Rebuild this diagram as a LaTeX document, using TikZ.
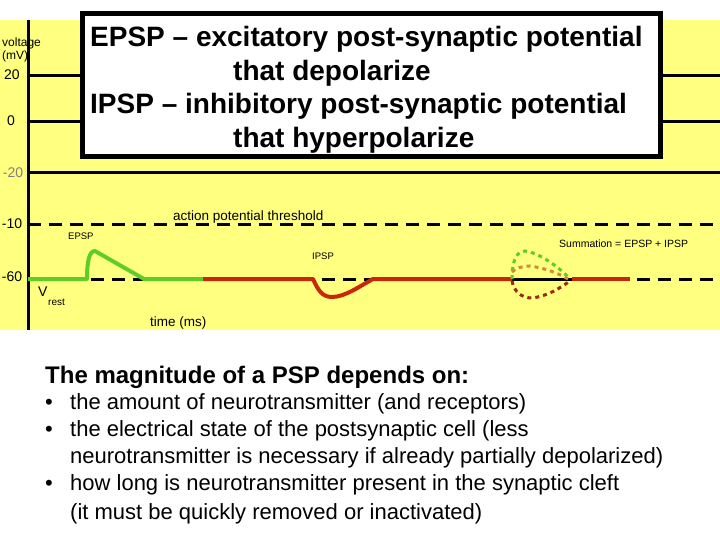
\documentclass[tikz,border=0pt]{standalone}
\usepackage{fontspec}
\setmainfont{Liberation Sans}
\definecolor{bgyellow}{RGB}{255,255,128}
\definecolor{epspgreen}{RGB}{95,205,40}
\definecolor{ipspred}{RGB}{200,40,10}
\definecolor{sumorange}{RGB}{205,140,60}
\definecolor{sumdark}{RGB}{150,40,20}
\begin{document}
\begin{tikzpicture}[x=1pt,y=-1pt,
  axisline/.style={line width=3pt},
  dashline/.style={line width=3pt, dash pattern=on 13pt off 8pt},
  curve/.style={line width=4pt, line join=round},
  dotcurve/.style={line width=3pt, dash pattern=on 4pt off 4pt},
  ticklab/.style={font=\fontsize{14}{16}\selectfont, inner sep=0pt},
  smalllab/.style={font=\fontsize{9.5}{11}\selectfont, inner sep=0pt},
  chartlab/.style={font=\fontsize{13.5}{16}\selectfont, inner sep=0pt},
  boxtext/.style={font=\fontsize{28}{32}\selectfont\bfseries, inner sep=0pt, anchor=base west},
  bodytext/.style={font=\fontsize{22}{26}\selectfont, inner sep=0pt, anchor=base west}
]
\useasboundingbox (0,0) rectangle (720,540);
\fill[white] (0,0) rectangle (720,540);
% chart background
\fill[bgyellow] (0,20) rectangle (720,330);
% axis and grid lines
\draw[axisline] (28,20) -- (28,330);
\draw[axisline] (28,76) -- (720,76);
\draw[axisline] (28,122) -- (720,122);
\draw[axisline] (28,173) -- (720,173);
\draw[dashline] (28,225) -- (720,225);
\draw[dashline] (28,279) -- (720,279);
\draw[line width=3pt] (512,279) -- (572,279);
% EPSP (green)
\draw[curve, epspgreen] (28,279) -- (87,279) .. controls (87,262) and (89,251) .. (95,251) -- (144,279) -- (203,279);
% IPSP (red)
\draw[curve, ipspred] (203,279) -- (313,279) .. controls (318,290) and (322,297) .. (332,297) .. controls (345,297) and (360,286) .. (373,279) -- (512,279);
\draw[curve, ipspred] (572,279) -- (630,279);
% summation dotted curves
\draw[dotcurve, epspgreen] (512,279) .. controls (512,258) and (518,251) .. (525,251) .. controls (540,253) and (560,268) .. (570,279);
\draw[dotcurve, sumorange] (512,272) .. controls (516,268) and (522,266) .. (530,266) .. controls (545,268) and (560,274) .. (568,279);
\draw[dotcurve, sumdark] (512,281) .. controls (514,292) and (522,298) .. (532,298) .. controls (548,296) and (560,288) .. (570,281);
% axis labels
\node[font=\fontsize{12}{13}\selectfont, inner sep=0pt, anchor=west] (volt) at (2,43) {voltage};
\node[font=\fontsize{12}{13}\selectfont, inner sep=0pt, anchor=west] (mv) at (2,56) {(mV)};
\node[ticklab] (t20) at (12,75) {20};
\node[ticklab] (t0) at (11,121) {0};
\node[ticklab, gray] (tm20) at (13,173) {-20};
\node[ticklab] (tm10) at (12,224) {-10};
\node[ticklab] (tm60) at (12,277) {-60};
% chart labels
\node[chartlab, anchor=west] (thr) at (173,217) {action potential threshold};
\node[smalllab, anchor=west] (epsp) at (68,236) {EPSP};
\node[smalllab, anchor=west] (ipsp) at (312,256) {IPSP};
\node[font=\fontsize{10.5}{12}\selectfont, inner sep=0pt, anchor=west] (summ) at (559,244) {Summation = EPSP + IPSP};
\node[font=\fontsize{14}{16}\selectfont, inner sep=0pt, anchor=west] (vr) at (38,292) {V};
\node[font=\fontsize{10}{12}\selectfont, inner sep=0pt, anchor=west] (rest) at (48,302) {rest};
\node[chartlab, anchor=west] (time) at (150,323) {time (ms)};
% definition box
\draw[line width=5pt, fill=white] (82.5,13.5) rectangle (660.5,156.5);
\node[boxtext] (l1) at (90,47) {EPSP – excitatory post-synaptic potential};
\node[boxtext] (l2) at (233,81) {that depolarize};
\node[boxtext] (l3) at (90,114) {IPSP – inhibitory post-synaptic potential};
\node[boxtext] (l4) at (233,148) {that hyperpolarize};
% bottom text
\node[font=\fontsize{24}{28}\selectfont\bfseries, inner sep=0pt, anchor=base west] (title) at (45,383) {The magnitude of a PSP depends on:};
\node[bodytext] (b1) at (45,409) {•};
\node[bodytext] (s1) at (70,409) {the amount of neurotransmitter (and receptors)};
\node[bodytext] (b2) at (45,436) {•};
\node[bodytext] (s2) at (70,436) {the electrical state of the postsynaptic cell (less};
\node[bodytext] (s2b) at (70,463) {neurotransmitter is necessary if already partially depolarized)};
\node[bodytext] (b3) at (45,490) {•};
\node[bodytext] (s3) at (70,490) {how long is neurotransmitter present in the synaptic cleft};
\node[bodytext] (s3b) at (70,519) {(it must be quickly removed or inactivated)};
\end{tikzpicture}
\end{document}
